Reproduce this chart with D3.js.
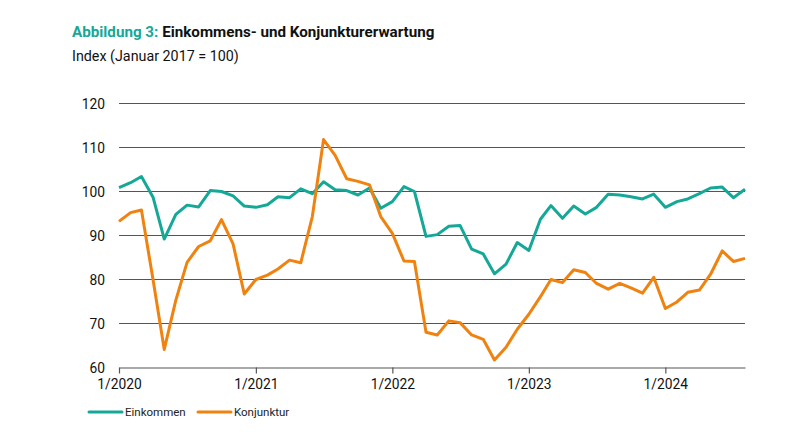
<!DOCTYPE html>
<html>
<head>
<meta charset="utf-8">
<script src="https://cdn.jsdelivr.net/npm/d3@7"></script>
<style>
 body{margin:0;background:#fff;}
 text{font-family:Roboto,"Open Sans",sans-serif;}
</style>
</head>
<body>
<div id="chart"></div>
<script>
// monthly values, Jan 2020 .. Aug 2024
var startMonth = [2020, 0];
var einkommen = [100.9,102.0,103.4,98.7,89.2,94.8,96.9,96.5,100.2,100.0,99.0,96.7,
  96.4,97.0,98.8,98.6,100.6,99.5,102.2,100.4,100.2,99.2,100.8,96.2,
  97.7,101.1,100.0,89.8,90.2,92.1,92.3,86.9,85.8,81.3,83.5,88.4,
  86.6,93.7,96.8,93.9,96.7,94.9,96.4,99.4,99.2,98.8,98.3,99.4,
  96.4,97.7,98.3,99.5,100.8,101.0,98.6,100.5];
var konjunktur = [93.2,95.2,95.8,80.0,64.1,75.3,83.9,87.5,88.8,93.6,88.1,76.7,
  80.0,81.0,82.4,84.4,83.8,94.3,111.8,108.2,102.9,102.3,101.5,94.3,
  90.5,84.2,84.1,68.0,67.4,70.6,70.2,67.4,66.4,61.7,64.6,68.7,
  72.1,76.1,80.0,79.3,82.2,81.6,79.1,77.8,79.1,78.1,76.9,80.5,
  73.4,74.9,77.1,77.6,81.2,86.5,84.1,84.8];
var yTicks = [60,70,80,90,100,110,120];
var xTickYears = [2020,2021,2022,2023,2024];
var seriesNames = ["Einkommen","Konjunktur"];
var seriesColors = ["#16a897","#f0820f"];

var width = 802, height = 436;
var svg = d3.select("#chart").append("svg")
  .attr("width", width).attr("height", height);

function monthDate(i){ return new Date(startMonth[0], startMonth[1] + i, 1); }

var x = d3.scaleTime()
  .domain([new Date(2020,0,1), new Date(2024,7,1)])
  .range([119, 745]);
var y = d3.scaleLinear().domain([60,120]).range([367.5,103.5]);

// title
var title = svg.append("text").attr("x",72).attr("y",37)
  .style("font-size","15.2px").style("font-weight","700");
title.append("tspan").attr("fill","#16a897").text("Abbildung 3: ");
title.append("tspan").attr("fill","#111").text("Einkommens- und Konjunkturerwartung");
svg.append("text").attr("x",72).attr("y",61).attr("fill","#111")
  .style("font-size","14.3px").text("Index (Januar 2017 = 100)");

// grid
svg.append("g").selectAll("line").data(yTicks.filter(function(d){return d>60;}))
  .enter().append("line")
  .attr("x1",119).attr("x2",745)
  .attr("y1",function(d){return y(d);}).attr("y2",function(d){return y(d);})
  .attr("stroke","#555").attr("stroke-width",1.2);

// y labels
svg.append("g").selectAll("text").data(yTicks).enter().append("text")
  .attr("x",105).attr("y",function(d){return y(d)+5;})
  .attr("text-anchor","end").attr("fill","#111")
  .style("font-size","13.8px").text(function(d){return d;});

// x axis
var xAxis = d3.axisBottom(x)
  .tickValues(xTickYears.map(function(yr){return new Date(yr,0,1);}))
  .tickFormat(function(d){return "1/" + d.getFullYear();})
  .tickSize(6).tickSizeOuter(0).tickPadding(6);
var gx = svg.append("g").attr("transform","translate(0,"+y(60)+")").call(xAxis);
gx.select(".domain").attr("stroke","#555").attr("stroke-width",1.2);
gx.selectAll(".tick line").attr("stroke","#555").attr("stroke-width",1.2);
gx.selectAll(".tick text").attr("fill","#111").style("font-size","13.8px")
  .style("font-family","Roboto,sans-serif");

// lines
var line = d3.line()
  .x(function(d,i){return x(monthDate(i));})
  .y(function(d){return y(d);});
[einkommen, konjunktur].forEach(function(s, k){
  svg.append("path").datum(s)
    .attr("fill","none").attr("stroke",seriesColors[k])
    .attr("stroke-width",3).attr("stroke-linejoin","round")
    .attr("d",line);
});

// legend
var legX = [89, 198];
seriesNames.forEach(function(n,k){
  svg.append("line").attr("x1",legX[k]).attr("x2",legX[k]+33)
    .attr("y1",412).attr("y2",412)
    .attr("stroke",seriesColors[k]).attr("stroke-width",3).attr("stroke-linecap","round");
  svg.append("text").attr("x",legX[k]+36).attr("y",416)
    .attr("fill","#222").style("font-size","11.5px").text(n);
});
</script>
</body>
</html>
